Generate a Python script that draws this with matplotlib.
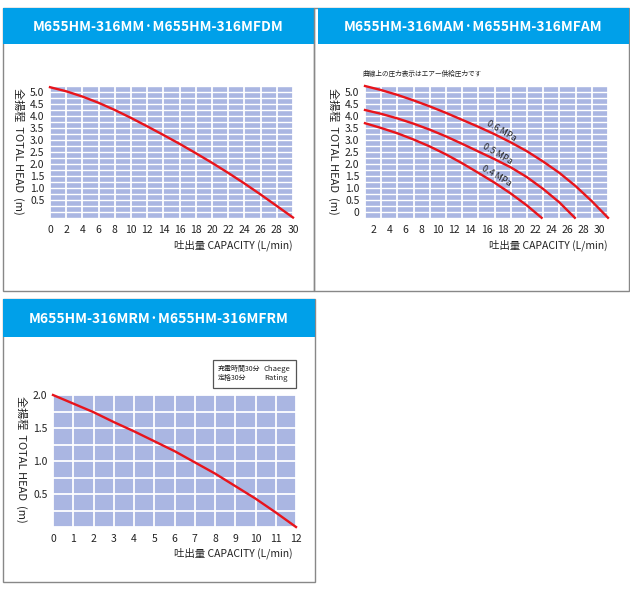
import matplotlib as mpl
mpl.use("Agg")

import matplotlib.pyplot as plt
from matplotlib.patches import Rectangle
from matplotlib.ticker import FixedLocator, MultipleLocator
import numpy as np

plt.rcParams['font.family'] = ['Noto Sans CJK JP', 'DejaVu Sans']

# ---- data ----
titles = ["M655HM-316MM·M655HM-316MFDM",
          "M655HM-316MAM·M655HM-316MFAM",
          "M655HM-316MRM·M655HM-316MFRM"]

# panel 1 : single curve
flow_mm = [0, 2, 4, 6, 8, 10, 12, 14, 16, 18, 20, 22, 24, 26, 28, 30]
head_mm = [5.2, 5.03, 4.81, 4.55, 4.25, 3.92, 3.57, 3.21, 2.84, 2.45,
           2.05, 1.63, 1.19, 0.73, 0.25, -0.23]

# panel 2 : air driven, three supply pressures
flow_06 = [1, 3, 5, 7, 9, 11, 13, 15, 17, 19, 21, 23, 25, 27, 29, 31]
head_06 = [5.25, 5.08, 4.88, 4.65, 4.4, 4.13, 3.84, 3.55, 3.24, 2.9,
           2.53, 2.1, 1.63, 1.08, 0.45, -0.24]
flow_05 = [1, 3, 5, 7, 9, 11, 13, 15, 17, 19, 21, 23, 25, 26.9]
head_05 = [4.25, 4.09, 3.9, 3.68, 3.43, 3.15, 2.84, 2.52, 2.2, 1.86,
           1.45, 0.96, 0.4, -0.24]
flow_04 = [1, 3, 5, 7, 9, 11, 13, 15, 17, 19, 21, 22.8]
head_04 = [3.7, 3.5, 3.28, 3.02, 2.73, 2.4, 2.03, 1.63, 1.22, 0.77, 0.27, -0.24]
pressure_labels = ["0.6 MPa", "0.5 MPa", "0.4 MPa"]

# panel 3 : battery model
flow_rm = [0, 1, 2, 3, 4, 5, 6, 7, 8, 9, 10, 11, 12]
head_rm = [2.0, 1.87, 1.74, 1.59, 1.45, 1.3, 1.15, 0.98, 0.81, 0.62, 0.43, 0.22, 0.0]

ylabel = "全揚程  TOTAL HEAD  (m)"
xlabel = "吐出量 CAPACITY (L/min)"
note = "曲線上の圧力表示はエアー供給圧力です"

W, H = 630, 591
BLUE = "#00a0e9"
GRID_BG = "#aab6e2"
RED = "#e8141b"
TXT = "#222222"


def rect(l, t, r, b):
    return [l / W, 1 - b / H, (r - l) / W, (b - t) / H]


def ftext(x, y, s, **kw):
    fig.text(x / W, 1 - y / H, s, **kw)


def panel(l, t, r, b, bar_l, bar_b, title):
    fig.add_artist(Rectangle((l / W, 1 - b / H), (r - l) / W, (b - t) / H,
                             transform=fig.transFigure, fill=False,
                             edgecolor="#888888", lw=1))
    fig.add_artist(Rectangle((bar_l / W, 1 - bar_b / H), (r - bar_l) / W,
                             (bar_b - t) / H, transform=fig.transFigure,
                             facecolor=BLUE, edgecolor="none"))
    ftext((bar_l + r) / 2, (t + bar_b) / 2 + 1, title, color="white",
          fontsize=10, fontweight="bold", ha="center", va="center")


def chart(box, xlim, ylim, xticks, yticks, xgrid, ygrid, ylab_fmt, hlw=1.0):
    ax = fig.add_axes(rect(*box))
    ax.set_facecolor(GRID_BG)
    ax.set_xlim(*xlim)
    ax.set_ylim(*ylim)
    ax.set_xticks(xticks)
    ax.set_yticks(yticks)
    ax.set_yticklabels([ylab_fmt(v) for v in yticks])
    # grid lines sit on their own (minor) positions, keep the ones on labels too
    ax.xaxis.remove_overlapping_locs = False
    ax.yaxis.remove_overlapping_locs = False
    ax.xaxis.set_minor_locator(FixedLocator(xgrid))
    ax.yaxis.set_minor_locator(MultipleLocator(ygrid))
    ax.grid(False, which="major")
    ax.grid(True, which="minor", axis="x", color="white", lw=1.3)
    ax.grid(True, which="minor", axis="y", color="white", lw=hlw)
    ax.tick_params(which="both", length=0, labelsize=7.5, colors=TXT)
    ax.tick_params(axis="y", pad=4)
    ax.tick_params(axis="x", pad=5)
    for s in ax.spines.values():
        s.set_visible(False)
    return ax


fig = plt.figure(figsize=(W / 100, H / 100), dpi=100)

# ---- panel 1 ----
panel(3, 8, 314, 291, 3, 44, titles[0])
ax1 = chart((50, 86, 293, 218), (0, 30), (-0.25, 5.25), np.arange(0, 31, 2),
            [0.5, 1.0, 1.5, 2.0, 2.5, 3.0, 3.5, 4.0, 4.5, 5.0],
            np.arange(0, 31, 2), 0.25, lambda v: f"{v:.1f}")
ax1.plot(flow_mm, head_mm, color=RED, lw=1.7, clip_on=False)
ftext(19, 151, ylabel, rotation=-90, fontsize=8, ha="center", va="center", color=TXT)
ftext(293, 245, xlabel, fontsize=7.5, ha="right", va="center", color=TXT)

# ---- panel 2 ----
panel(314, 8, 629, 291, 318, 44, titles[1])
ax2 = chart((365, 86, 608, 218), (1, 31), (-0.25, 5.25), np.arange(2, 31, 2),
            [0, 0.5, 1.0, 1.5, 2.0, 2.5, 3.0, 3.5, 4.0, 4.5, 5.0],
            np.arange(1, 32, 2), 0.25, lambda v: "0" if v == 0 else f"{v:.1f}")
for fx, hy in [(flow_06, head_06), (flow_05, head_05), (flow_04, head_04)]:
    ax2.plot(fx, hy, color=RED, lw=1.7, clip_on=False)
for (px, py), lab in zip([(17.9, 3.38), (17.3, 2.42), (17.2, 1.5)], pressure_labels):
    ax2.text(px, py, lab, rotation=-30, fontsize=6.5, ha="center", va="center",
             color=TXT, rotation_mode="anchor")
ftext(334, 151, ylabel, rotation=-90, fontsize=8, ha="center", va="center", color=TXT)
ftext(608, 245, xlabel, fontsize=7.5, ha="right", va="center", color=TXT)
ftext(362, 74, note, fontsize=4.8, ha="left", va="center", color=TXT)

# ---- panel 3 ----
panel(3, 299, 315, 582, 3, 337, titles[2])
ax3 = chart((53, 395, 296, 527), (0, 12), (0, 2.0), np.arange(0, 13, 1),
            [0.5, 1.0, 1.5, 2.0], np.arange(0, 13, 1), 0.25,
            lambda v: f"{v:.1f}", hlw=1.3)
ax3.plot(flow_rm, head_rm, color=RED, lw=1.7, clip_on=False)
ftext(22, 459, ylabel, rotation=-90, fontsize=8, ha="center", va="center", color=TXT)
ftext(293, 553, xlabel, fontsize=7.5, ha="right", va="center", color=TXT)

fig.add_artist(Rectangle((213 / W, 1 - 388 / H), 83 / W, 28 / H,
                         transform=fig.transFigure, fill=False,
                         edgecolor="#555555", lw=0.9))
ftext(218, 369, "充電時間30分", fontsize=5, va="center", color=TXT)
ftext(218, 378, "定格30分", fontsize=5, va="center", color=TXT)
ftext(264, 369, "Chaege", fontsize=5.5, va="center", color=TXT)
ftext(264, 378, "Rating", fontsize=5.5, va="center", color=TXT)

fig.savefig("out.png", dpi=100)
